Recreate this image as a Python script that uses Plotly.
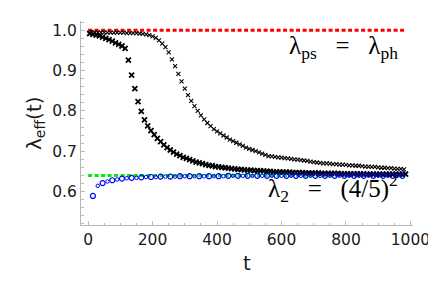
import plotly.graph_objects as go

# ---- data ----
t_series1 = list(range(5, 995, 10))
lam_series1 = [
    0.992, 0.990, 0.988, 0.986, 0.983, 0.980, 0.977, 0.973, 0.969, 0.965,
    0.961, 0.955, 0.926, 0.889, 0.855, 0.823, 0.799, 0.778, 0.763, 0.751,
    0.741, 0.732, 0.724, 0.716, 0.709, 0.703, 0.698, 0.693, 0.689, 0.685,
    0.682, 0.679, 0.676, 0.673, 0.671, 0.669, 0.667, 0.665, 0.664, 0.662,
    0.661, 0.660, 0.659, 0.658, 0.657, 0.656, 0.655, 0.655, 0.654, 0.653,
    0.653, 0.652, 0.652, 0.651, 0.651, 0.650, 0.650, 0.649, 0.649, 0.649,
    0.648, 0.648, 0.648, 0.647, 0.647, 0.647, 0.647, 0.646, 0.646, 0.646,
    0.646, 0.646, 0.645, 0.645, 0.645, 0.645, 0.645, 0.645, 0.644, 0.644,
    0.644, 0.644, 0.644, 0.644, 0.644, 0.644, 0.643, 0.643, 0.643, 0.643,
    0.643, 0.643, 0.643, 0.643, 0.643, 0.643, 0.643, 0.643, 0.643,
]

t_series2 = list(range(10, 990, 10))
lam_series2 = [
    0.996, 0.995, 0.995, 0.995, 0.995, 0.994, 0.994, 0.994, 0.994, 0.994,
    0.994, 0.993, 0.993, 0.993, 0.993, 0.992, 0.991, 0.990, 0.988, 0.985,
    0.981, 0.975, 0.967, 0.958, 0.945, 0.928, 0.911, 0.892, 0.873, 0.855,
    0.839, 0.825, 0.812, 0.800, 0.789, 0.779, 0.770, 0.762, 0.755, 0.749,
    0.744, 0.739, 0.734, 0.729, 0.725, 0.721, 0.717, 0.713, 0.709, 0.706,
    0.703, 0.700, 0.697, 0.694, 0.691, 0.688, 0.687, 0.686, 0.685, 0.684,
    0.683, 0.682, 0.681, 0.680, 0.679, 0.678, 0.677, 0.676, 0.674, 0.673,
    0.672, 0.671, 0.670, 0.670, 0.669, 0.668, 0.668, 0.667, 0.667, 0.666,
    0.665, 0.665, 0.664, 0.664, 0.663, 0.662, 0.662, 0.661, 0.661, 0.660,
    0.659, 0.659, 0.658, 0.658, 0.657, 0.656, 0.656, 0.655,
]

t_blue_big = list(range(15, 990, 30))
lam_blue_big = [
    0.589, 0.621, 0.628, 0.632, 0.634, 0.635, 0.636, 0.637, 0.637, 0.638,
    0.638, 0.638, 0.638, 0.638, 0.639, 0.639, 0.639, 0.639, 0.639, 0.639,
    0.639, 0.639, 0.639, 0.639, 0.639, 0.639, 0.639, 0.639, 0.639, 0.639,
    0.639, 0.639, 0.639,
]
t_blue_small = list(range(30, 990, 30))
lam_blue_small = [
    0.614, 0.625, 0.630, 0.633, 0.634, 0.636, 0.636, 0.637, 0.637, 0.638,
    0.638, 0.638, 0.638, 0.638, 0.639, 0.639, 0.639, 0.639, 0.639, 0.639,
    0.639, 0.639, 0.639, 0.639, 0.639, 0.639, 0.639, 0.639, 0.639, 0.639,
    0.639, 0.639,
]

ref_t = [0, 980]
lam_ps = [1.0, 1.0]
lam_2 = [0.64, 0.64]

x_ticks = [0, 200, 400, 600, 800, 1000]
y_ticks = [0.6, 0.7, 0.8, 0.9, 1.0]

# ---- figure ----
fig = go.Figure()
fig.add_trace(go.Scatter(x=ref_t, y=lam_ps, mode="lines",
                         line=dict(color="#ff0000", width=3, dash="4px,2.5px")))
fig.add_trace(go.Scatter(x=ref_t, y=lam_2, mode="lines",
                         line=dict(color="#00ee00", width=3, dash="4px,2.5px")))
fig.add_trace(go.Scatter(x=t_series2, y=lam_series2, mode="markers",
                         marker=dict(symbol="x-thin", size=4, color="black",
                                     line=dict(color="black", width=1.1))))
fig.add_trace(go.Scatter(x=t_series1, y=lam_series1, mode="markers",
                         marker=dict(symbol="x-thin", size=5, color="black",
                                     line=dict(color="black", width=1.8))))
fig.add_trace(go.Scatter(x=t_blue_big, y=lam_blue_big, mode="markers",
                         marker=dict(symbol="circle-open", size=5, color="#0000ff",
                                     line=dict(color="#0000ff", width=1.2))))
fig.add_trace(go.Scatter(x=t_blue_small, y=lam_blue_small, mode="markers",
                         marker=dict(symbol="circle-open", size=3.5, color="#0000ff",
                                     line=dict(color="#0000ff", width=1))))

NB = "\u00a0"
fig.add_annotation(x=(392 - 73) / 332, y=1.0 - (40 - 13) / 204, xref="paper", yref="paper",
                   text=f"λ<sub>ps</sub>{NB*3}={NB*3}λ<sub>ph</sub>", showarrow=False,
                   xanchor="right", yanchor="middle",
                   font=dict(family="Liberation Serif", size=25, color="black"))
fig.add_annotation(x=(392 - 73) / 332, y=1.0 - (180 - 13) / 204, xref="paper", yref="paper",
                   text=f"λ<sub>2</sub>{NB*3}={NB*3}(4/5)<sup>2</sup>", showarrow=False,
                   xanchor="right", yanchor="middle",
                   font=dict(family="Liberation Serif", size=25, color="black"))
fig.add_annotation(x=(27 - 73) / 332, y=0.5, xref="paper", yref="paper",
                   text="λ<sub>eff</sub>(t)", showarrow=False, textangle=-90,
                   xanchor="center", yanchor="middle",
                   font=dict(family="DejaVu Sans", size=20, color="#1a1a1a"))

axis_common = dict(showline=True, linecolor="#b8b8b8", linewidth=1,
                   ticks="inside", tickcolor="#b8b8b8", ticklen=4,
                   showgrid=False, zeroline=False, mirror=False,
                   tickfont=dict(family="DejaVu Sans", size=15.5, color="#1a1a1a"))

fig.update_layout(
    width=436, height=286,
    margin=dict(l=73, r=31, t=13, b=69),
    paper_bgcolor="white", plot_bgcolor="white",
    showlegend=False,
    xaxis=dict(range=[-22, 1008], tickvals=x_ticks,
               minor=dict(dtick=50, tick0=0, ticks="inside", ticklen=2.5, tickcolor="#b8b8b8"),
               title=dict(text="t", font=dict(family="DejaVu Sans", size=20, color="#1a1a1a"),
                          standoff=8),
               **axis_common),
    yaxis=dict(range=[0.517, 1.023], tickvals=y_ticks, tickformat=".1f",
               minor=dict(dtick=0.02, tick0=0, ticks="inside", ticklen=2.5, tickcolor="#b8b8b8"),
               **axis_common),
)

fig.write_html("out.html")
